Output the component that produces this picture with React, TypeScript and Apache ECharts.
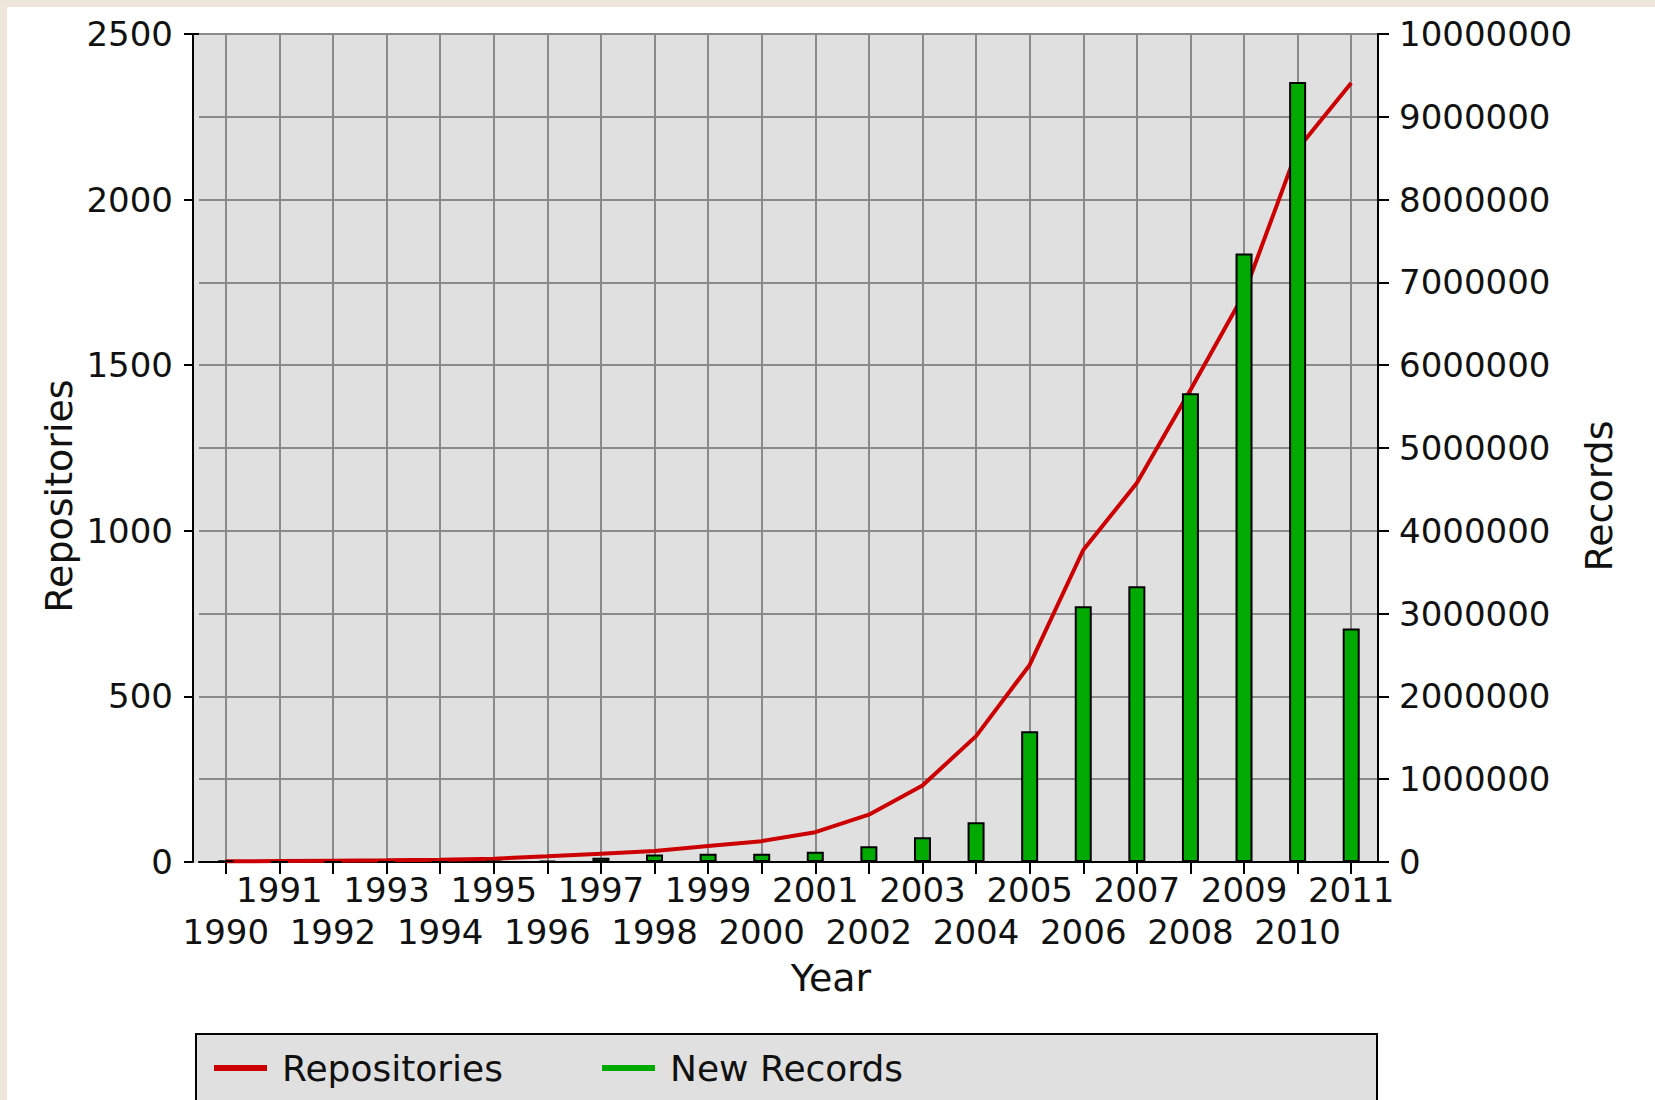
import React, { useEffect, useRef } from "react";
import * as echarts from "echarts";

const years = [
  "1990", "1991", "1992", "1993", "1994", "1995", "1996", "1997", "1998", "1999", "2000",
  "2001", "2002", "2003", "2004", "2005", "2006", "2007", "2008", "2009", "2010", "2011",
];
const repositories = [2, 3, 4, 5, 7, 10, 17, 25, 33, 48, 63, 90, 143, 231, 380, 595, 942, 1144, 1425, 1715, 2153, 2352];
const newRecords = [
  20000, 0, 0, 0, 0, 15000, 15000, 50000, 90000, 100000, 100000, 125000, 190000, 300000, 480000,
  1580000, 3090000, 3330000, 5660000, 7350000, 9420000, 2820000,
];
const leftTicks = { min: 0, max: 2500, interval: 500 };
const rightTicks = { min: 0, max: 10000000, interval: 1000000 };

const FONT = "DejaVu Sans";
const RED = "#cc0000";
const GREEN = "#00aa00";
const GRIDGRAY = "#8a8a8a";

export default function App() {
  const ref = useRef<HTMLDivElement>(null);
  useEffect(() => {
    if (!ref.current) return;
    const chart = echarts.init(ref.current, null, { renderer: "svg" });
    chart.setOption({
      animation: false,
      grid: { left: 199, right: 277, top: 34, bottom: 238, containLabel: false },
      legend: {
        left: 209,
        top: 1043,
        icon: "rect",
        itemWidth: 53,
        itemHeight: 6,
        itemGap: 99,
        itemStyle: { borderWidth: 0 },
        textStyle: { fontFamily: FONT, fontSize: 36, color: "#111", padding: [0, 0, 0, 10], lineHeight: 40 },
        data: [
          { name: "Repositories", itemStyle: { color: RED, borderWidth: 0 } },
          { name: "New Records", itemStyle: { color: GREEN, borderWidth: 0 } },
        ],
      },
      xAxis: [
        {
          type: "category",
          data: years,
          boundaryGap: true,
          axisLine: { show: true, onZero: false, lineStyle: { color: "#000", width: 2 } },
          axisTick: { show: true, alignWithLabel: true, interval: 0, length: 12, lineStyle: { color: "#000", width: 2 } },
          axisLabel: {
            interval: 0,
            margin: 7,
            fontFamily: FONT,
            fontSize: 34,
            color: "#111",
            lineHeight: 42,
            formatter: (v: string, i: number) => (i % 2 === 0 ? "\n" + v : v),
          },
          splitLine: { show: false },
        },
        {
          type: "value",
          position: "bottom",
          min: -0.5,
          max: years.length - 0.5,
          minInterval: 1,
          maxInterval: 1,
          axisLine: { show: false, onZero: false },
          axisTick: { show: false },
          axisLabel: { show: false },
          splitLine: { show: true, showMinLine: false, showMaxLine: false, lineStyle: { color: GRIDGRAY, width: 2 } },
        },
      ],
      yAxis: [
        {
          type: "value",
          position: "left",
          offset: 6,
          min: leftTicks.min,
          max: leftTicks.max,
          interval: leftTicks.interval,
          axisLine: { show: true, onZero: false, lineStyle: { color: "#000", width: 2 } },
          axisTick: { show: true, length: 9, lineStyle: { color: "#000", width: 2 } },
          axisLabel: { margin: 20, fontFamily: FONT, fontSize: 34, color: "#111", formatter: (v: number) => String(v) },
          splitLine: { show: false },
        },
        {
          type: "value",
          position: "right",
          min: rightTicks.min,
          max: rightTicks.max,
          interval: rightTicks.interval,
          axisLine: { show: true, onZero: false, lineStyle: { color: "#000", width: 2 } },
          axisTick: { show: true, length: 11, lineStyle: { color: "#000", width: 2 } },
          axisLabel: {
            margin: 21,
            fontFamily: FONT,
            fontSize: 34,
            color: "#111",
            formatter: (v: number) => String(v),
          },
          splitLine: { show: true, lineStyle: { color: GRIDGRAY, width: 2 } },
        },
      ],
      series: [
        {
          name: "Repositories",
          type: "line",
          xAxisIndex: 0,
          yAxisIndex: 0,
          data: repositories,
          showSymbol: false,
          symbol: "none",
          color: RED,
          lineStyle: { color: RED, width: 4 },
          z: 2,
        },
        {
          name: "New Records",
          type: "bar",
          xAxisIndex: 0,
          yAxisIndex: 1,
          data: newRecords,
          barWidth: 17,
          color: GREEN,
          itemStyle: { color: GREEN, borderColor: "#000", borderWidth: 2 },
          z: 3,
        },
      ],
      graphic: [
        {
          type: "text",
          x: 59,
          y: 496,
          rotation: Math.PI / 2,
          style: { text: "Repositories", fontFamily: FONT, fontSize: 38, fill: "#111", align: "center", verticalAlign: "middle" },
        },
        {
          type: "text",
          x: 1599,
          y: 496,
          rotation: Math.PI / 2,
          style: { text: "Records", fontFamily: FONT, fontSize: 38, fill: "#111", align: "center", verticalAlign: "middle" },
        },
        {
          type: "text",
          x: 831,
          y: 978,
          style: { text: "Year", fontFamily: FONT, fontSize: 38, fill: "#111", align: "center", verticalAlign: "middle" },
        },
      ],
    });
    return () => chart.dispose();
  }, []);

  return (
    <div style={{ position: "fixed", left: 0, top: 0, width: 1655, height: 1100, overflow: "hidden", background: "#ede7db" }}>
      <div style={{ position: "absolute", left: 7, top: 7, right: 0, bottom: 0, background: "#ffffff" }} />
      <div
        style={{
          position: "absolute",
          left: 193,
          top: 33,
          width: 1186,
          height: 830,
          boxSizing: "border-box",
          background: "#e0e0e0",
          borderTop: "2px solid #000",
        }}
      />
      <div
        style={{
          position: "absolute",
          left: 195,
          top: 1033,
          width: 1183,
          height: 120,
          boxSizing: "border-box",
          background: "#e0e0e0",
          border: "2px solid #000",
        }}
      />
      <div ref={ref} style={{ position: "absolute", left: 0, top: 0, width: 1655, height: 1100 }} />
    </div>
  );
}
